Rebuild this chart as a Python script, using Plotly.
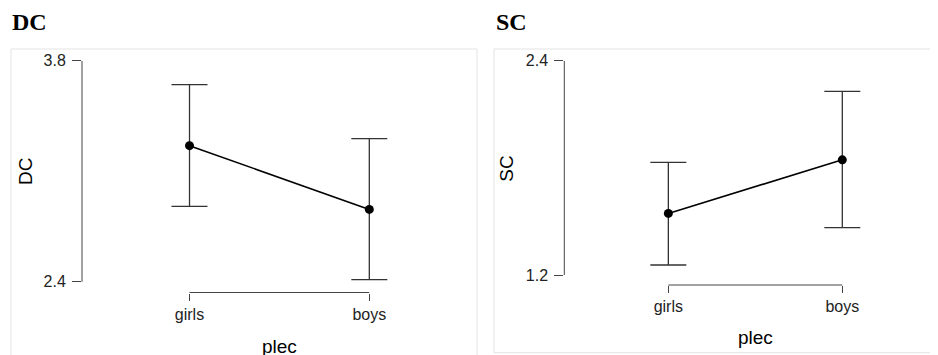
import plotly.graph_objects as go

# ---- data ----
groups = ["girls", "boys"]

dc_mean = [3.262, 2.858]
dc_lower = [2.877, 2.413]
dc_upper = [3.648, 3.306]

sc_mean = [1.545, 1.845]
sc_lower = [1.256, 1.465]
sc_upper = [1.831, 2.228]

dc_ticks = [2.4, 3.8]
sc_ticks = [1.2, 2.4]

panel_titles = ["DC", "SC"]
x_title = "plec"

# ---- layout helpers ----
# the page body has an 8px default margin, so the figure is sized to fill
# the 938x355 window from (8, 8); positions below are given in window pixels
OFF = 8
W, H = 938 - OFF, 355 - OFF


def px(x):
    return (x - OFF) / W


def py(y):
    return 1 - (y - OFF) / H


SANS = "Liberation Sans, Arial, Helvetica, sans-serif"
SERIF = "Liberation Serif, Times New Roman, serif"
AXC = "#444444"

fig = go.Figure()


def add_panel(mean, lower, upper, xa, ya):
    fig.add_trace(go.Scatter(
        x=groups, y=mean, xaxis=xa, yaxis=ya,
        mode="lines+markers",
        line=dict(color="black", width=1.6),
        marker=dict(color="black", size=9),
        error_y=dict(
            type="data", symmetric=False,
            array=[u - m for u, m in zip(upper, mean)],
            arrayminus=[m - l for m, l in zip(mean, lower)],
            color="#333333", thickness=1.3, width=18,
        ),
        showlegend=False, hoverinfo="skip", cliponaxis=False,
    ))


add_panel(dc_mean, dc_lower, dc_upper, "x", "y")
add_panel(sc_mean, sc_lower, sc_upper, "x2", "y2")

xcommon = dict(
    type="category", ticks="outside", ticklen=7, tickwidth=1, tickcolor=AXC,
    showline=False, showgrid=False, zeroline=False, automargin=False,
    tickfont=dict(family=SANS, size=16, color="#222222"),
    fixedrange=True,
)
ycommon = dict(
    ticks="outside", ticklen=9, tickwidth=1, tickcolor=AXC,
    showline=False, showgrid=False, zeroline=False, automargin=False,
    tickfont=dict(family=SANS, size=16, color="#222222"),
    ticklabelstandoff=3,
    fixedrange=True,
)

fig.update_layout(
    width=W, height=H,
    margin=dict(l=0, r=0, t=0, b=0, pad=0, autoexpand=False),
    showlegend=False,
    paper_bgcolor="white", plot_bgcolor="white",
    xaxis=dict(xcommon, domain=[px(82), px(477)], range=[-0.598, 1.599], anchor="y"),
    yaxis=dict(ycommon, domain=[py(292.5), py(60.7)], range=[2.332, 3.8],
               tickvals=dc_ticks, ticktext=[f"{v:.1f}" for v in dc_ticks], anchor="x"),
    xaxis2=dict(xcommon, domain=[px(564.3), 1.0], range=[-0.598, 1.550], anchor="y2"),
    yaxis2=dict(ycommon, domain=[py(285), py(60.7)], range=[1.144, 2.4],
                tickvals=sc_ticks, ticktext=[f"{v:.1f}" for v in sc_ticks], anchor="x2"),
)

shapes = []
# panel frames
shapes.append(dict(type="rect", xref="paper", yref="paper",
                   x0=px(11), x1=px(477), y0=py(362), y1=py(49),
                   line=dict(color="#e3e3e3", width=1), layer="below"))
shapes.append(dict(type="rect", xref="paper", yref="paper",
                   x0=px(494), x1=px(945), y0=py(352.7), y1=py(49),
                   line=dict(color="#e3e3e3", width=1), layer="below"))
# range-frame axis lines
for xa, ya, ticks in [("x", "y", dc_ticks), ("x2", "y2", sc_ticks)]:
    shapes.append(dict(type="line", xref=f"{xa} domain", yref=ya,
                       x0=0, x1=0, y0=ticks[0], y1=ticks[-1],
                       line=dict(color=AXC, width=1)))
    shapes.append(dict(type="line", xref=xa, yref=f"{ya} domain",
                       x0=groups[0], x1=groups[-1], y0=0, y1=0,
                       line=dict(color=AXC, width=1)))
fig.update_layout(shapes=shapes)

annotations = [
    # panel titles
    dict(text=f"<b>{panel_titles[0]}</b>", xref="paper", yref="paper",
         x=px(10), y=py(22.5), xanchor="left", yanchor="middle", showarrow=False,
         font=dict(family=SERIF, size=24, color="black")),
    dict(text=f"<b>{panel_titles[1]}</b>", xref="paper", yref="paper",
         x=px(494.5), y=py(22.5), xanchor="left", yanchor="middle", showarrow=False,
         font=dict(family=SERIF, size=24, color="black")),
    # y-axis titles
    dict(text=panel_titles[0], xref="paper", yref="paper", textangle=-90,
         x=px(25.3), y=py(171.7), xanchor="center", yanchor="middle", showarrow=False,
         font=dict(family=SANS, size=19, color="black")),
    dict(text=panel_titles[1], xref="paper", yref="paper", textangle=-90,
         x=px(506.7), y=py(169), xanchor="center", yanchor="middle", showarrow=False,
         font=dict(family=SANS, size=19, color="black")),
    # x-axis titles
    dict(text=x_title, xref="x", yref="paper", x=0.5, y=py(346),
         xanchor="center", yanchor="middle", showarrow=False,
         font=dict(family=SANS, size=19, color="black")),
    dict(text=x_title, xref="x2", yref="paper", x=0.5, y=py(337.5),
         xanchor="center", yanchor="middle", showarrow=False,
         font=dict(family=SANS, size=19, color="black")),
]
fig.update_layout(annotations=annotations)

fig.write_html("out.html")
